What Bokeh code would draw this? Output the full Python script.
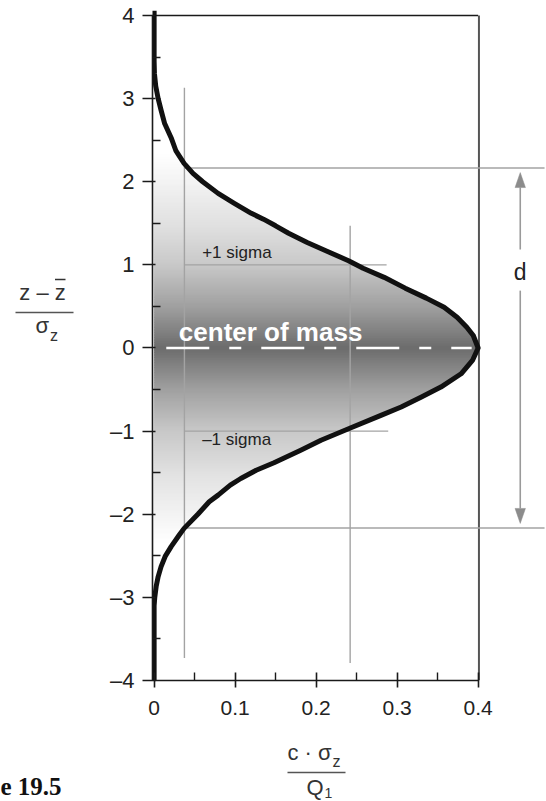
import numpy as np
from bokeh.plotting import figure
from bokeh.layouts import row, column
from bokeh.models import FixedTicker, Label, Range1d, ColumnDataSource
from bokeh.embed import file_html
from bokeh.resources import INLINE

# ---- data (curve: concentration x at height y) ----
CURVE_Y = [-4.0, -3.25, -3.1, -3.0, -2.87, -2.75, -2.63, -2.5, -2.39, -2.25, -2.17,
           -2.0, -1.85, -1.77, -1.65, -1.57, -1.47, -1.38, -1.23, -1.11, -0.96,
           -0.81, -0.71, -0.59, -0.47, -0.31, -0.15, 0.0, 0.15, 0.25, 0.37, 0.49,
           0.6, 0.72, 0.85, 0.96, 1.05, 1.17, 1.27, 1.38, 1.47, 1.55, 1.62, 1.74,
           1.86, 2.0, 2.1, 2.22, 2.37, 2.53, 2.7, 2.86, 3.0, 3.15, 3.3, 3.45, 4.06]
CURVE_X = [0.0, 0.0, 0.0, 0.0008, 0.0025, 0.005, 0.0086, 0.014, 0.021, 0.031, 0.037,
           0.054, 0.068, 0.079, 0.094, 0.107, 0.126, 0.148, 0.181, 0.206, 0.243,
           0.280, 0.305, 0.330, 0.354, 0.379, 0.393, 0.400, 0.394, 0.386, 0.374, 0.358,
           0.336, 0.310, 0.284, 0.258, 0.240, 0.212, 0.189, 0.166, 0.150, 0.135, 0.120, 0.099,
           0.079, 0.060, 0.048, 0.037, 0.027, 0.021, 0.013, 0.0086, 0.005, 0.002, 0.0004, 0.0, 0.0]

X_TICKS = [0, 0.1, 0.2, 0.3, 0.4]
X_TICK_LABELS = ["0", "0.1", "0.2", "0.3", "0.4"]
X_MINOR = [0.05, 0.15, 0.25, 0.35]
Y_TICKS = [-4, -3, -2, -1, 0, 1, 2, 3, 4]
Y_TICK_LABELS = ["\u20134", "\u20133", "\u20132", "\u20131", "0", "1", "2", "3", "4"]
Y_MINOR = [-3.5, -2.5, -1.5, -0.5, 0.5, 1.5, 2.5, 3.5]

SIGMA_LEVELS = [1.0, -1.0]             # +1 / -1 sigma
SIGMA_LINE_END = [0.287, 0.289]
D_LEVELS = [2.165, -2.165]             # limits of d
X_GUIDE_A = 0.0374                      # left vertical guide
X_GUIDE_A_SPAN = (-3.73, 3.13)
X_GUIDE_B = 0.242                       # right vertical guide
X_GUIDE_B_SPAN = (-3.79, 1.47)
D_ARROW_X = 0.452

# gradient (gray level vs |y|) - style
GRAD_Y = [0.0, 0.5, 1.0, 1.5, 2.0, 2.35]
GRAD_V = [108, 160, 200, 225, 243, 255]

FONT = "Liberation Sans"
TXT = "#333333"

# main frame geometry (page pixels): top 10 <-> y=4.06, bottom 680 <-> y=-4
FRAME_TOP, FRAME_BOT = 10, 680
PX_PER_Y = (FRAME_BOT - FRAME_TOP) / 8.06


def mid(baseline, size):
    """page-y of the middle anchor for text whose baseline is at `baseline`"""
    return baseline - 0.35 * size


def ydata(page_y):
    return -4.0 + (FRAME_BOT - page_y) / PX_PER_Y


class Strip:
    """Blank figure; coordinates are page pixels. frame spans page rows [ftop, fbot]."""
    def __init__(self, w, h, ftop, fbot):
        self.fbot = fbot
        f = figure(width=w, height=h, x_range=Range1d(0, w), y_range=Range1d(0, fbot - ftop),
                   output_backend="svg", toolbar_location=None, x_axis_type=None,
                   y_axis_type=None, min_border=0, title=None)
        f.outline_line_color = None
        f.grid.visible = False
        f.background_fill_color = "white"
        f.border_fill_color = "white"
        self.f = f

    def y(self, page_y):
        return self.fbot - page_y

    def label(self, x, baseline, text, size, **kw):
        self.f.add_layout(Label(x=x, y=self.y(mid(baseline, size)), text=text,
                                text_baseline="middle", text_font_size="%dpx" % size, **kw))

    def hline(self, x0, x1, py, **kw):
        self.f.segment(x0=[x0], y0=[self.y(py)], x1=[x1], y1=[self.y(py)], **kw)


def plabel(x, baseline, text, size, **kw):
    p.add_layout(Label(x=x, y=ydata(mid(baseline, size)), text=text, text_baseline="middle",
                       text_font_size="%dpx" % size, **kw))


# ================= main plot =================
p = figure(width=446, height=740, x_range=Range1d(-0.002, 0.4844),
           y_range=Range1d(-4.0, 4.06), output_backend="svg", toolbar_location=None,
           min_border_left=52, min_border_right=0, min_border_top=FRAME_TOP,
           min_border_bottom=740 - FRAME_BOT)
p.outline_line_color = None
p.grid.visible = False
p.background_fill_color = "white"
p.border_fill_color = "white"

xa = p.xaxis[0]
xa.ticker = FixedTicker(ticks=X_TICKS, minor_ticks=X_MINOR)
xa.major_label_overrides = {t: l for t, l in zip(X_TICKS, X_TICK_LABELS)}
xa.bounds = (0, 0.4)
xa.major_tick_out = 7
xa.major_tick_in = 8
xa.minor_tick_in = 8
xa.minor_tick_out = 0
xa.major_label_standoff = 13
xa.major_label_text_font = FONT
xa.major_label_text_font_size = "21px"
xa.major_label_text_color = "#222222"

ya = p.yaxis[0]
ya.ticker = FixedTicker(ticks=Y_TICKS, minor_ticks=Y_MINOR)
ya.major_label_overrides = {t: l for t, l in zip(Y_TICKS, Y_TICK_LABELS)}
ya.bounds = (-4, 4)
ya.major_tick_out = 10
ya.major_tick_in = 3
ya.minor_tick_in = 8
ya.minor_tick_out = 0
ya.major_label_standoff = 8
ya.major_label_text_font = FONT
ya.major_label_text_font_size = "22px"
ya.major_label_text_color = "#222222"

for ax in (xa, ya):
    ax.axis_line_width = 1.6
    ax.axis_line_color = "#1a1a1a"
    ax.major_tick_line_width = 1.6
    ax.major_tick_line_color = "#1a1a1a"
    ax.minor_tick_line_width = 1.4
    ax.minor_tick_line_color = "#1a1a1a"

# gradient fill under the curve (thin overlapping horizontal strips)
cy = np.array(CURVE_Y)
cx = np.array(CURVE_X)
step = 0.02
edges = np.arange(-2.36, 2.36 + step / 2, step)
xs, ys, cols = [], [], []
for y0, y1 in zip(edges[:-1], edges[1:]):
    y1e = y1 + 0.012
    f0 = float(np.interp(y0, cy, cx))
    f1 = float(np.interp(y1e, cy, cx))
    g = int(round(float(np.interp(abs((y0 + y1) / 2), GRAD_Y, GRAD_V))))
    xs.append([0, f0, f1, 0])
    ys.append([y0, y0, y1e, y1e])
    cols.append("#%02x%02x%02x" % (g, g, g))
p.patches(xs="xs", ys="ys", fill_color="c", line_color=None,
          source=ColumnDataSource(dict(xs=xs, ys=ys, c=cols)))

# frame (top and right border)
p.segment(x0=[0], y0=[4], x1=[0.4], y1=[4], line_color="#1a1a1a", line_width=1.5)
p.segment(x0=[0.401], y0=[-4], x1=[0.401], y1=[4], line_color="#555555", line_width=2)

# gray guide lines
GRAY = "#a3a3a3"
p.segment(x0=[X_GUIDE_A, X_GUIDE_B], y0=[X_GUIDE_A_SPAN[0], X_GUIDE_B_SPAN[0]],
          x1=[X_GUIDE_A, X_GUIDE_B], y1=[X_GUIDE_A_SPAN[1], X_GUIDE_B_SPAN[1]],
          line_color=GRAY, line_width=1.4)
p.segment(x0=[X_GUIDE_A] * 2, y0=SIGMA_LEVELS, x1=SIGMA_LINE_END, y1=SIGMA_LEVELS,
          line_color=GRAY, line_width=1.4)
p.segment(x0=[X_GUIDE_A] * 2, y0=D_LEVELS, x1=[0.482] * 2, y1=D_LEVELS,
          line_color=GRAY, line_width=1.4)

# d arrow
ARROW_C = "#9a9a9a"
head_len = 0.18
hw = 0.0064
tip_top = D_LEVELS[0] - 0.055
tip_bot = D_LEVELS[1] + 0.055
p.segment(x0=[D_ARROW_X, D_ARROW_X], y0=[1.185, 0.69],
          x1=[D_ARROW_X, D_ARROW_X], y1=[tip_top - head_len, tip_bot + head_len],
          line_color=ARROW_C, line_width=1.6)
p.patches(xs=[[D_ARROW_X - hw, D_ARROW_X, D_ARROW_X + hw]] * 2,
          ys=[[tip_top - head_len, tip_top, tip_top - head_len],
              [tip_bot + head_len, tip_bot, tip_bot + head_len]],
          fill_color="#8c8c8c", line_color="#8c8c8c", line_width=0.5)
plabel(D_ARROW_X, 280, "d", 23, text_font=FONT, text_color="#222222", text_align="center")

# center of mass dashed line
p.line(x=[0.015, 0.392], y=[0, 0], line_color="white", line_width=2.6,
       line_dash="43 20 12 20")
plabel(0.0305, 341, "center of mass", 26, text_font=FONT, text_font_style="bold",
       text_color="white")

# sigma labels
plabel(0.0593, 258, "+1 sigma", 17, text_font=FONT, text_color="#222222")
plabel(0.0593, 445, "\u20131 sigma", 17, text_font=FONT, text_color="#222222")

# the curve
p.line(x=CURVE_X, y=CURVE_Y, line_color="#111111", line_width=5, line_join="round")

# ================= y-axis label (fraction), left strip =================
lf = Strip(100, 740, FRAME_TOP, FRAME_BOT)   # frame is aligned with the main frame
lf.label(42, 300, "z \u2013 z", 22, text_font=FONT, text_color=TXT, text_align="center")
lf.hline(54.5, 65, 279, line_color=TXT, line_width=1.6)
lf.hline(15, 73, 312, line_color="#555555", line_width=1.6)
lf.label(35, 333, "\u03c3", 22, text_font=FONT, text_color=TXT)
lf.label(49.5, 341, "z", 16, text_font=FONT, text_color=TXT)

# ================= x-axis label (fraction) and caption, bottom strip =================
bf = Strip(546, 61, 740, 801)
bf.label(287, 760, "c \u00b7 \u03c3", 22, text_font=FONT, text_color=TXT)
bf.label(332, 767, "z", 16, text_font=FONT, text_color=TXT)
bf.hline(287, 345, 772, line_color="#555555", line_width=1.6)
bf.label(306, 795, "Q", 22, text_font=FONT, text_color=TXT)
bf.label(324, 797, "1", 14, text_font=FONT, text_color=TXT)
bf.label(0, 795, "e 19.5", 25, text_font="Liberation Serif", text_font_style="bold",
         text_color="#111111")

layout = column(row(lf.f, p), bf.f)
open("out.html", "w").write(file_html(layout, INLINE))
